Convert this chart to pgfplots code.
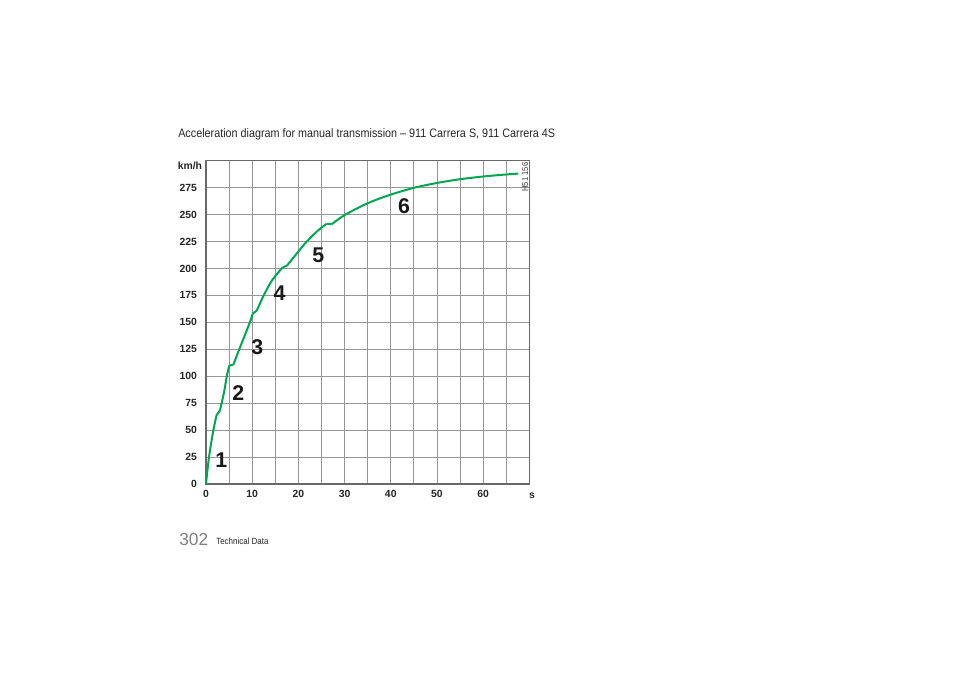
\documentclass[border=0pt]{standalone}
\usepackage{fontspec}
\setmainfont{Liberation Sans}
\newfontfamily\cond[FakeStretch=0.88]{Liberation Sans}
\usepackage{pgfplots}
\pgfplotsset{compat=1.18}
\definecolor{curvegreen}{RGB}{0,166,82}
\definecolor{gridgray}{RGB}{150,150,150}
\definecolor{bordergray}{RGB}{105,105,105}
\begin{document}
\begin{tikzpicture}[x=0.75pt,y=0.75pt]
\path (0,0) rectangle (960,678);
\node[anchor=west,inner sep=0pt,font=\cond\fontsize{9.2}{11}\selectfont,text=black!85] at (178,544) {Acceleration diagram for manual transmission – 911 Carrera S, 911 Carrera 4S};
\node[anchor=base west,inner sep=0pt,font=\fontsize{13}{15}\selectfont,text=black!50] at (179,132) {302};
\node[anchor=base west,inner sep=0pt,font=\cond\fontsize{6.8}{8}\selectfont,text=black!85] at (216,133) {Technical Data};
\begin{axis}[
  at={(154.5pt,145.5pt)}, anchor=south west,
  scale only axis, width=242.5pt, height=242.5pt,
  xmin=0, xmax=70, ymin=0, ymax=300,
  xtick={0,5,...,70}, ytick={0,25,...,300},
  xticklabels={0,,10,,20,,30,,40,,50,,60,,},
  yticklabels={0,25,50,75,100,125,150,175,200,225,250,275,},
  major tick length=0pt,
  grid=major,
  major grid style={gridgray, line width=0.6pt},
  axis line style={bordergray, line width=1.1pt},
  ticklabel style={font=\bfseries\fontsize{7.8}{9}\selectfont, text=black!85},
  /pgf/number format/assume math mode=true,
  xticklabel style={yshift=-1pt},
  yticklabel style={xshift=-3.2pt},
  clip=false,
]
% gear 1
\addplot[curvegreen, line width=1.5pt, smooth] coordinates {(0,0) (0.65,25) (1.6,50) (2.3,64)};
\addplot[curvegreen, line width=1.5pt] coordinates {(2.3,64) (3.0,68)};
% gear 2
\addplot[curvegreen, line width=1.5pt, smooth] coordinates {(3.0,68) (3.9,85) (4.5,100) (5.05,110)};
\addplot[curvegreen, line width=1.5pt] coordinates {(5.05,110) (5.9,110.5)};
% gear 3
\addplot[curvegreen, line width=1.5pt, smooth] coordinates {(5.9,110.5) (7.2,125) (9.5,150) (10.1,158)};
\addplot[curvegreen, line width=1.5pt] coordinates {(10.1,158) (11.0,161)};
% gear 4
\addplot[curvegreen, line width=1.5pt, smooth] coordinates {(11.0,161) (12.5,175) (14.3,189) (16.6,201)};
\addplot[curvegreen, line width=1.5pt] coordinates {(16.6,201) (17.5,202.5)};
% gear 5
\addplot[curvegreen, line width=1.5pt, smooth] coordinates {(17.5,202.5) (19.3,212) (21.5,223.5) (23.8,233.5) (26.1,241.5)};
\addplot[curvegreen, line width=1.5pt] coordinates {(26.1,241.5) (27.2,241)};
% gear 6
\addplot[curvegreen, line width=1.5pt, smooth] coordinates {(27.2,241) (30,249.5) (35,260.5) (40,268.5) (45,274.8) (50,279.3) (55,282.8) (60,285.3) (65,287.2) (67.6,288)};
% gear labels
\node[font=\bfseries\fontsize{16}{18}\selectfont, text=black!90] at (axis cs:3.3,22) {1};
\node[font=\bfseries\fontsize{16}{18}\selectfont, text=black!90] at (axis cs:7.0,84) {2};
\node[font=\bfseries\fontsize{16}{18}\selectfont, text=black!90] at (axis cs:11.1,127) {3};
\node[font=\bfseries\fontsize{16}{18}\selectfont, text=black!90] at (axis cs:15.9,177) {4};
\node[font=\bfseries\fontsize{16}{18}\selectfont, text=black!90] at (axis cs:24.3,212) {5};
\node[font=\bfseries\fontsize{16}{18}\selectfont, text=black!90] at (axis cs:42.9,258) {6};
\node[rotate=90, anchor=east, inner sep=0.5pt, font=\cond\fontsize{6.5}{7}\selectfont, text=black!75] at (axis cs:69.1,299) {H51 156};
\node[anchor=east, inner sep=0pt, font=\bfseries\fontsize{7.8}{9}\selectfont, text=black!85] at (axis cs:-0.8,295) {km/h};
\node[anchor=center, inner sep=0pt, font=\bfseries\fontsize{7.8}{9}\selectfont, text=black!85] at (axis cs:70.6,-11) {s};
\end{axis}
\end{tikzpicture}
\end{document}
